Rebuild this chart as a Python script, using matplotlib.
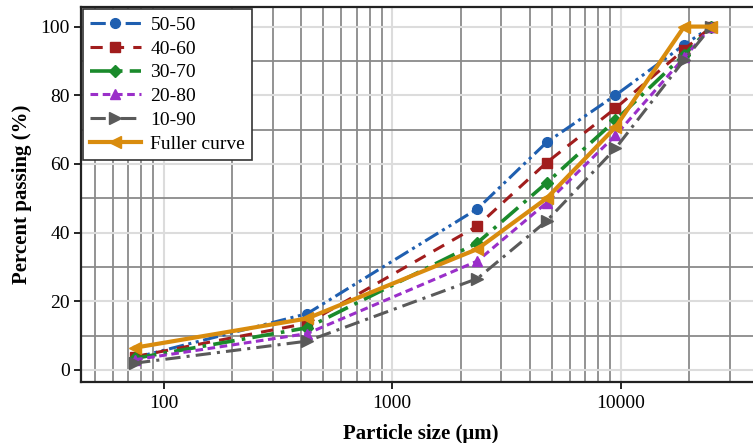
import matplotlib
matplotlib.use("Agg")
import matplotlib.pyplot as plt
from matplotlib.ticker import LogLocator, FixedLocator, NullFormatter, FixedFormatter

plt.rcParams['font.family'] = ['Liberation Serif', 'DejaVu Serif']

sizes = [75, 425, 2360, 4750, 9500, 19000, 25000]
labels = ["50-50", "40-60", "30-70", "20-80", "10-90", "Fuller curve"]
p_50_50 = [3.6, 16.4, 46.9, 66.3, 80.0, 94.7, 100]
p_40_60 = [3.9, 13.6, 41.9, 60.4, 76.2, 93.3, 100]
p_30_70 = [3.4, 12.3, 37.0, 54.5, 72.7, 91.8, 100]
p_20_80 = [3.0, 10.6, 31.7, 48.7, 68.3, 91.0, 100]
p_10_90 = [2.0, 8.4, 26.6, 43.4, 64.5, 90.3, 100]
p_fuller = [6.5, 15.0, 35.2, 50.0, 70.7, 100, 100]
series = [p_50_50, p_40_60, p_30_70, p_20_80, p_10_90, p_fuller]

colors = ["#1f5fb0", "#a11d1d", "#1a8a2b", "#9a2fc9", "#5a5a5a", "#d98c0e"]
markers = ["o", "s", "D", "^", ">", "<"]
styles = [(0, (5, 1.5, 1, 1.5, 1, 1.5)), (0, (4, 3)), (0, (6, 2, 1, 2)),
          (0, (2.5, 1.5)), (0, (5, 2, 1, 2)), "-"]
lws = [2.2, 2.2, 2.6, 2.2, 2.2, 3.0]
msizes = [7, 7, 6, 7, 8, 8]

fig = plt.figure(figsize=(7.53, 4.43), dpi=100)
ax = fig.add_axes([81/753, 1-382/443, (753-81)/753 + 0.01, (382-7)/443])

for vals, lab, c, m, ls, lw, ms in zip(series, labels, colors, markers, styles, lws, msizes):
    ax.plot(sizes, vals, color=c, marker=m, linestyle=ls, lw=lw, ms=ms, label=lab)

ax.set_xscale('log')
ax.set_xlim(43.5, 41000)
ax.set_ylim(-3.5, 105.7)

ax.xaxis.set_major_locator(FixedLocator([100, 1000, 10000]))
ax.xaxis.set_major_formatter(FixedFormatter(["100", "1000", "10000"]))
ax.xaxis.set_minor_locator(LogLocator(base=10, subs=range(2, 10), numticks=20))
ax.xaxis.set_minor_formatter(NullFormatter())
ax.yaxis.set_major_locator(FixedLocator([0, 20, 40, 60, 80, 100]))
ax.yaxis.set_minor_locator(FixedLocator([10, 30, 50, 70, 90]))

ax.grid(which='major', color='#dcdcdc', lw=1.5, zorder=0)
ax.grid(which='minor', color='#8a8a8a', lw=1.3, zorder=0)
ax.set_axisbelow(True)
ax.tick_params(which='minor', length=0)
ax.tick_params(which='major', length=5, width=1.2, labelsize=14, direction='out')
ax.tick_params(axis='x', pad=4)
ax.tick_params(axis='y', pad=3)

for s in ['left', 'bottom', 'top']:
    ax.spines[s].set_linewidth(1.6)
    ax.spines[s].set_color('#222222')
ax.spines['right'].set_visible(False)

ax.set_xlabel("Particle size (μm)", fontsize=15, fontweight='bold', labelpad=9)
ax.set_ylabel("Percent passing (%)", fontsize=15, fontweight='bold', labelpad=6)

leg = ax.legend(loc='upper left', fontsize=14, frameon=True, fancybox=False,
                edgecolor='#333333', framealpha=1, handlelength=2.6,
                borderaxespad=0.12, labelspacing=0.32, handletextpad=0.5,
                borderpad=0.35)
leg.get_frame().set_linewidth(1.2)

fig.savefig("out.png", dpi=100)
